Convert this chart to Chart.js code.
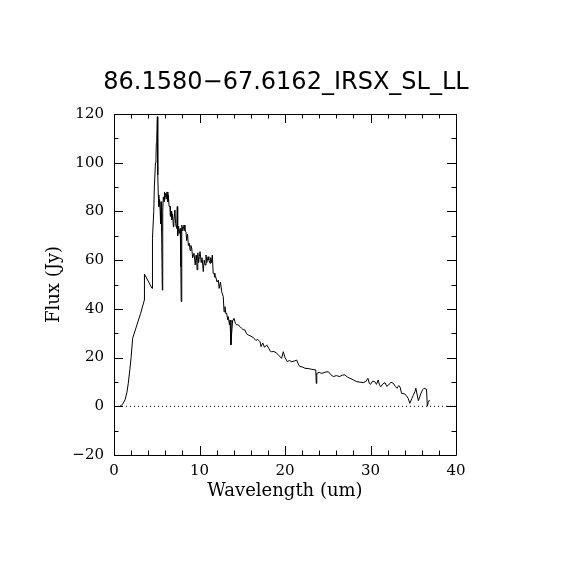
<!DOCTYPE html>
<html>
<head>
<meta charset="utf-8">
<script src="https://cdn.jsdelivr.net/npm/chart.js@4"></script>
<style>
html,body{margin:0;padding:0;background:#fff;}
#wrap{width:570px;height:570px;}
</style>
</head>
<body>
<div id="wrap"><canvas id="c" width="570" height="570"></canvas></div>
<script>
const chartTitle = "86.1580\u221267.6162_IRSX_SL_LL";
const xAxisTitle = "Wavelength (um)";
const yAxisTitle = "Flux (Jy)";
const xRange = [0, 40];
const yRange = [-20, 120];
const xTickStep = 10, xMinorStep = 2;
const yTickStep = 20, yMinorStep = 10;

const wavelength = [
0.70,1.0,1.29,1.5,1.67,1.85,2.0,2.18,2.6,3.1,3.55,3.56,4.45,4.5,4.65,4.72,4.85,4.91,4.95,5.0,
5.07,5.12,5.18,5.25,5.33,5.4,5.45,5.5,5.57,5.65,5.7,5.77,5.85,5.9,6.0,6.04,6.1,6.2,6.3,6.35,
6.45,6.55,6.6,6.7,6.75,6.85,6.94,7.0,7.13,7.2,7.33,7.4,7.45,7.55,7.65,7.75,7.82,7.86,7.9,7.95,
8.05,8.19,8.3,8.42,8.5,8.6,8.7,8.81,8.9,9.0,9.09,9.2,9.36,9.5,9.6,9.67,9.72,9.8,9.9,9.98,
10.06,10.2,10.3,10.44,10.55,10.65,10.76,10.85,11.0,11.1,11.23,11.3,11.4,11.5,11.6,11.7,11.8,11.9,12.05,12.2,
12.3,12.45,12.6,12.78,12.87,12.98,13.08,13.18,13.3,13.37,13.5,13.57,13.68,13.76,13.88,13.96,14.04,14.2,14.35,14.5,
14.74,14.93,15.1,15.32,15.5,15.7,16.0,16.3,16.6,16.8,17.08,17.2,17.4,17.6,17.86,18.1,18.3,18.44,18.7,19.03,
19.3,19.6,19.8,20.0,20.27,20.5,20.8,21.1,21.36,21.6,21.75,22.0,22.34,22.7,23.1,23.6,23.66,23.72,24.0,24.3,
24.7,25.07,25.35,25.65,26.0,26.4,26.7,27.0,27.3,27.6,28.0,28.4,28.8,29.15,29.45,29.7,29.85,30.0,30.25,30.5,
30.7,30.9,31.05,31.2,31.45,31.7,31.9,32.1,32.4,32.67,32.9,33.1,33.3,33.45,33.64,34.0,34.2,34.4,34.6,34.85,
35.0,35.2,35.3,35.6,35.9,36.1,36.26,36.55,36.65,36.75,36.9
];
const flux = [
0,0.8,2.6,5.5,9.4,15,20,27.9,32.5,38,43.6,54.3,48.4,69,80,90,100,101.8,108,110,
118.9,95,86.7,82,85,80,75,84,72,47.7,80,86,84,88,86,87.4,85,88,84,86.7,
82,82,78,80,76.5,79,73.7,76,80.6,75,73,82,70,74,71,73,57.3,43,70,74.4,
72,74.4,72,71.7,68,70.7,66,66.9,64,66,64.9,61,62.8,58,62,60,56,63,59,61.4,
63.5,59,61,55.3,60,58,62.1,59,61.4,60,58.7,61,59,62.1,54.6,54.6,53,53.2,51,51.8,
48.4,51,47,45,38.8,40.9,38,38.2,35.5,36.8,33.4,35.4,25.2,30,35.4,35.4,36.1,34,33.4,33.5,
32.7,32,31.5,31.3,29.8,29.3,28.8,28.2,27,27.5,26.5,24.5,26,24.2,25.2,23.8,22.5,22.4,22.5,21.8,
20.8,19.7,22.4,20,18.3,18.8,18.3,18.6,19,17,16.3,16.2,15.6,15.5,15.2,14.9,9.4,13.5,13.9,13.5,
14.0,14.2,13,12.2,12.6,12.2,12.8,12.9,12.0,11.5,10.8,10.1,9.9,9.7,10.2,11.5,9.5,9.0,10.3,10.1,
9.0,10.8,8.8,8.0,9.2,9.7,8.2,8.7,9.9,9.4,8.2,7.4,8.5,8.0,5.3,5.1,4.3,3.3,1.2,3.3,
4.5,6.0,7.4,2.3,5.3,6.8,7.4,7.0,0,1.5,2.6
];
const zeroLineY = 0;

const spectrum = wavelength.map((w, i) => ({x: w, y: flux[i]}));
const zeroLine = xRange.map(v => ({x: v, y: zeroLineY}));

const framePlugin = {
  id: 'frame',
  afterDraw(chart) {
    const {ctx, chartArea: a, scales} = chart;
    const xs = scales.x, ys = scales.y;
    ctx.save();
    ctx.strokeStyle = '#000';
    ctx.lineWidth = 1;
    ctx.beginPath();
    ctx.rect(Math.round(a.left) + 0.5, Math.round(a.top) + 0.5,
             Math.round(a.right - a.left), Math.round(a.bottom - a.top));
    ctx.stroke();
    ctx.beginPath();
    for (let v = xRange[0]; v <= xRange[1] + 1e-9; v += xMinorStep) {
      const px = Math.round(xs.getPixelForValue(v)) + 0.5;
      const len = (Math.abs(v % xTickStep) < 1e-9) ? 9 : 4.5;
      ctx.moveTo(px, a.bottom); ctx.lineTo(px, a.bottom - len);
      ctx.moveTo(px, a.top); ctx.lineTo(px, a.top + len);
    }
    for (let v = yRange[0]; v <= yRange[1] + 1e-9; v += yMinorStep) {
      const py = Math.round(ys.getPixelForValue(v)) + 0.5;
      const len = (Math.abs((v - yRange[0]) % yTickStep) < 1e-9) ? 9 : 4.5;
      ctx.moveTo(a.left, py); ctx.lineTo(a.left + len, py);
      ctx.moveTo(a.right, py); ctx.lineTo(a.right - len, py);
    }
    ctx.stroke();
    // title
    ctx.fillStyle = '#000';
    ctx.font = '24px "DejaVu Sans"';
    ctx.textAlign = 'center';
    ctx.textBaseline = 'middle';
    ctx.fillText(chartTitle, 286, 83);
    ctx.restore();
  }
};

new Chart(document.getElementById('c'), {
  type: 'scatter',
  data: {
    datasets: [
      {data: spectrum, showLine: true, borderColor: '#000', borderWidth: 1, pointRadius: 0, tension: 0, fill: false},
      {data: zeroLine, showLine: true, borderColor: '#000', borderWidth: 1, borderDash: [1, 3], pointRadius: 0, fill: false}
    ]
  },
  plugins: [framePlugin],
  options: {
    responsive: false,
    animation: false,
    devicePixelRatio: 1,
    layout: {padding: {left: 44, right: 114, top: 114, bottom: 68}},
    plugins: {legend: {display: false}, tooltip: {enabled: false}, title: {display: false}},
    scales: {
      x: {
        type: 'linear', min: xRange[0], max: xRange[1],
        afterFit(s) { s.height = 47; },
        grid: {display: false, drawTicks: false},
        border: {display: false},
        ticks: {stepSize: xTickStep, padding: 7, color: '#000', maxRotation: 0,
                font: {family: 'DejaVu Serif', size: 15}},
        title: {display: true, text: xAxisTitle, color: '#000', padding: 0,
                font: {family: 'DejaVu Serif', size: 18}}
      },
      y: {
        type: 'linear', min: yRange[0], max: yRange[1],
        afterFit(s) { s.width = 70; },
        grid: {display: false, drawTicks: false},
        border: {display: false},
        ticks: {stepSize: yTickStep, padding: 10, color: '#000',
                font: {family: 'DejaVu Serif', size: 15},
                callback: v => String(v).replace('-', '\u2212')},
        title: {display: true, text: yAxisTitle, color: '#000', padding: 0,
                font: {family: 'DejaVu Serif', size: 18}}
      }
    }
  }
});
</script>
</body>
</html>
